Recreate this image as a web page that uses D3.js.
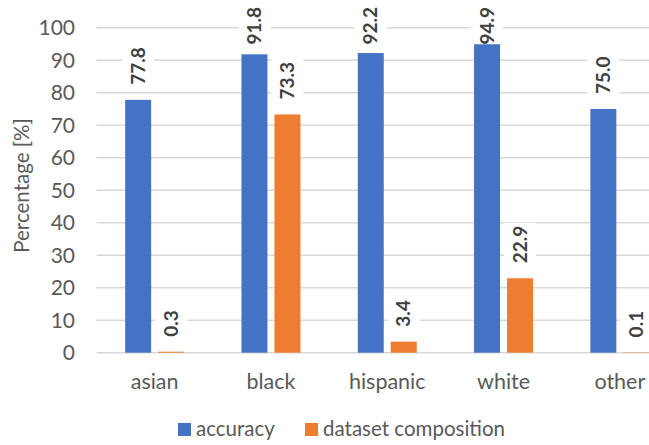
<!DOCTYPE html>
<html>
<head>
<meta charset="utf-8">
<script src="https://cdn.jsdelivr.net/npm/d3@7"></script>
<style>
  html, body { margin: 0; padding: 0; background: #fff; }
  svg { display: block; }
  text { font-family: Lato, "Open Sans", sans-serif; }
</style>
</head>
<body>
<svg id="chart" width="649" height="445"></svg>
<script>
const categories = ["asian", "black", "hispanic", "white", "other"];
const seriesNames = ["accuracy", "dataset composition"];
const accuracy = [77.8, 91.8, 92.2, 94.9, 75.0];
const composition = [0.3, 73.3, 3.4, 22.9, 0.1];
const yTicks = [0, 10, 20, 30, 40, 50, 60, 70, 80, 90, 100];
const colors = ["#4472C4", "#ED7D31"];

const svg = d3.select("#chart");
const W = 649, H = 445;
svg.append("rect").attr("width", W).attr("height", H).attr("fill", "#fff");

const plotLeft = 96.5, step = 116.3;
const plotRight = plotLeft + step * categories.length;
const plotTop = 27.7, plotBottom = 352.7;

const y = d3.scaleLinear().domain([0, 100]).range([plotBottom, plotTop]);
const x0 = d3.scaleBand().domain(categories).range([plotLeft, plotRight])
  .paddingInner(0.493).paddingOuter(0.2465);
const x1 = d3.scaleBand().domain(seriesNames).range([0, x0.bandwidth()])
  .paddingInner(0.212).paddingOuter(0);

// gridlines
svg.append("g").selectAll("line").data(yTicks).join("line")
  .attr("x1", plotLeft).attr("x2", plotRight)
  .attr("y1", d => y(d)).attr("y2", d => y(d))
  .attr("stroke", "#d9d9d9").attr("stroke-width", 1.4);

// y tick labels
svg.append("g").selectAll("text").data(yTicks).join("text")
  .attr("x", 75).attr("y", d => y(d)).attr("dy", "0.35em")
  .attr("text-anchor", "end").attr("font-size", 21).attr("fill", "#595959")
  .text(d => d);

// y axis title
svg.append("text")
  .attr("transform", `translate(29,185.5) rotate(-90)`)
  .attr("text-anchor", "middle").attr("font-size", 20.5).attr("fill", "#595959")
  .text("Percentage [%]");

const rows = categories.map((c, i) => ({ cat: c, values: [accuracy[i], composition[i]] }));

const groups = svg.append("g").selectAll("g").data(rows).join("g")
  .attr("transform", d => `translate(${x0(d.cat)},0)`);

const cells = d => d.values.map((v, j) => ({ v, s: seriesNames[j], j }));

// data labels, rotated, on a white box; kept inside the top margin
const labelTopLimit = 7;
groups.selectAll("g.lbl").data(cells)
  .join("g").attr("class", "lbl")
  .each(function(d) {
    const g = d3.select(this);
    const t = g.append("text")
      .attr("x", 0).attr("y", 0).attr("dy", "0.35em")
      .attr("font-size", 19).attr("font-weight", "bold").attr("fill", "#404040")
      .text(d.v.toFixed(1));
    const len = t.node().getComputedTextLength();
    g.insert("rect", "text")
      .attr("x", -3).attr("y", -16).attr("width", len + 6).attr("height", 32)
      .attr("fill", "#fff");
    const start = Math.max(y(d.v) - 15, labelTopLimit + len);
    g.attr("transform", `translate(${x1(d.s) + x1.bandwidth() / 2},${start}) rotate(-90)`);
  });

// bars drawn over the label boxes
groups.selectAll("rect.bar").data(cells)
  .join("rect").attr("class", "bar")
  .attr("x", d => x1(d.s)).attr("width", x1.bandwidth())
  .attr("y", d => y(d.v)).attr("height", d => y(0) - y(d.v))
  .attr("fill", d => colors[d.j]);

// category labels
svg.append("g").selectAll("text").data(categories).join("text")
  .attr("x", d => x0(d) + x0.bandwidth() / 2).attr("y", 389)
  .attr("text-anchor", "middle").attr("font-size", 21.5).attr("fill", "#595959")
  .text(d => d);

// legend
const legend = svg.append("g");
const legendX = [178, 305];
seriesNames.forEach((s, j) => {
  legend.append("rect").attr("x", legendX[j]).attr("y", 423).attr("width", 13).attr("height", 13)
    .attr("fill", colors[j]);
  legend.append("text").attr("x", legendX[j] + 18).attr("y", 436)
    .attr("font-size", 20.5).attr("fill", "#595959").text(s);
});
</script>
</body>
</html>
